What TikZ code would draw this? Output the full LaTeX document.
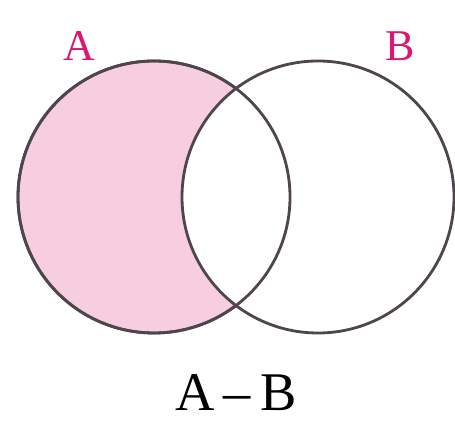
\documentclass[tikz,border=0pt]{standalone}
\usepackage{fontspec}
\setmainfont{Liberation Serif}
\definecolor{setpink}{RGB}{247,205,224}
\definecolor{setlabel}{RGB}{221,22,112}
\definecolor{setline}{RGB}{78,70,76}

\begin{document}
\begin{tikzpicture}[
  x=0.02cm, y=-0.02cm,
  setcircle/.style = {circle, draw=setline, line width=1.6pt, minimum size=272*0.02cm, inner sep=0pt},
  setname/.style = {text=setlabel, font=\fontsize{25}{28}\selectfont},
  caption/.style = {font=\fontsize{31}{34}\selectfont}
]
  \useasboundingbox (0,0) rectangle (455,421);

  % Sets
  \node[setcircle, fill=setpink] (seta) at (154,197) {};
  \node[setcircle, fill=white, draw=none] (setbfill) at (318,197) {};
  \node[setcircle] (setaline) at (154,197) {};
  \node[setcircle] (setb) at (318,197) {};

  % Labels
  \node[setname] (labela) at (79,46) {A};
  \node[setname] (labelb) at (400,46) {B};
  \node[caption] (diff) at (236,393) {A\,–\,B};
\end{tikzpicture}
\end{document}
